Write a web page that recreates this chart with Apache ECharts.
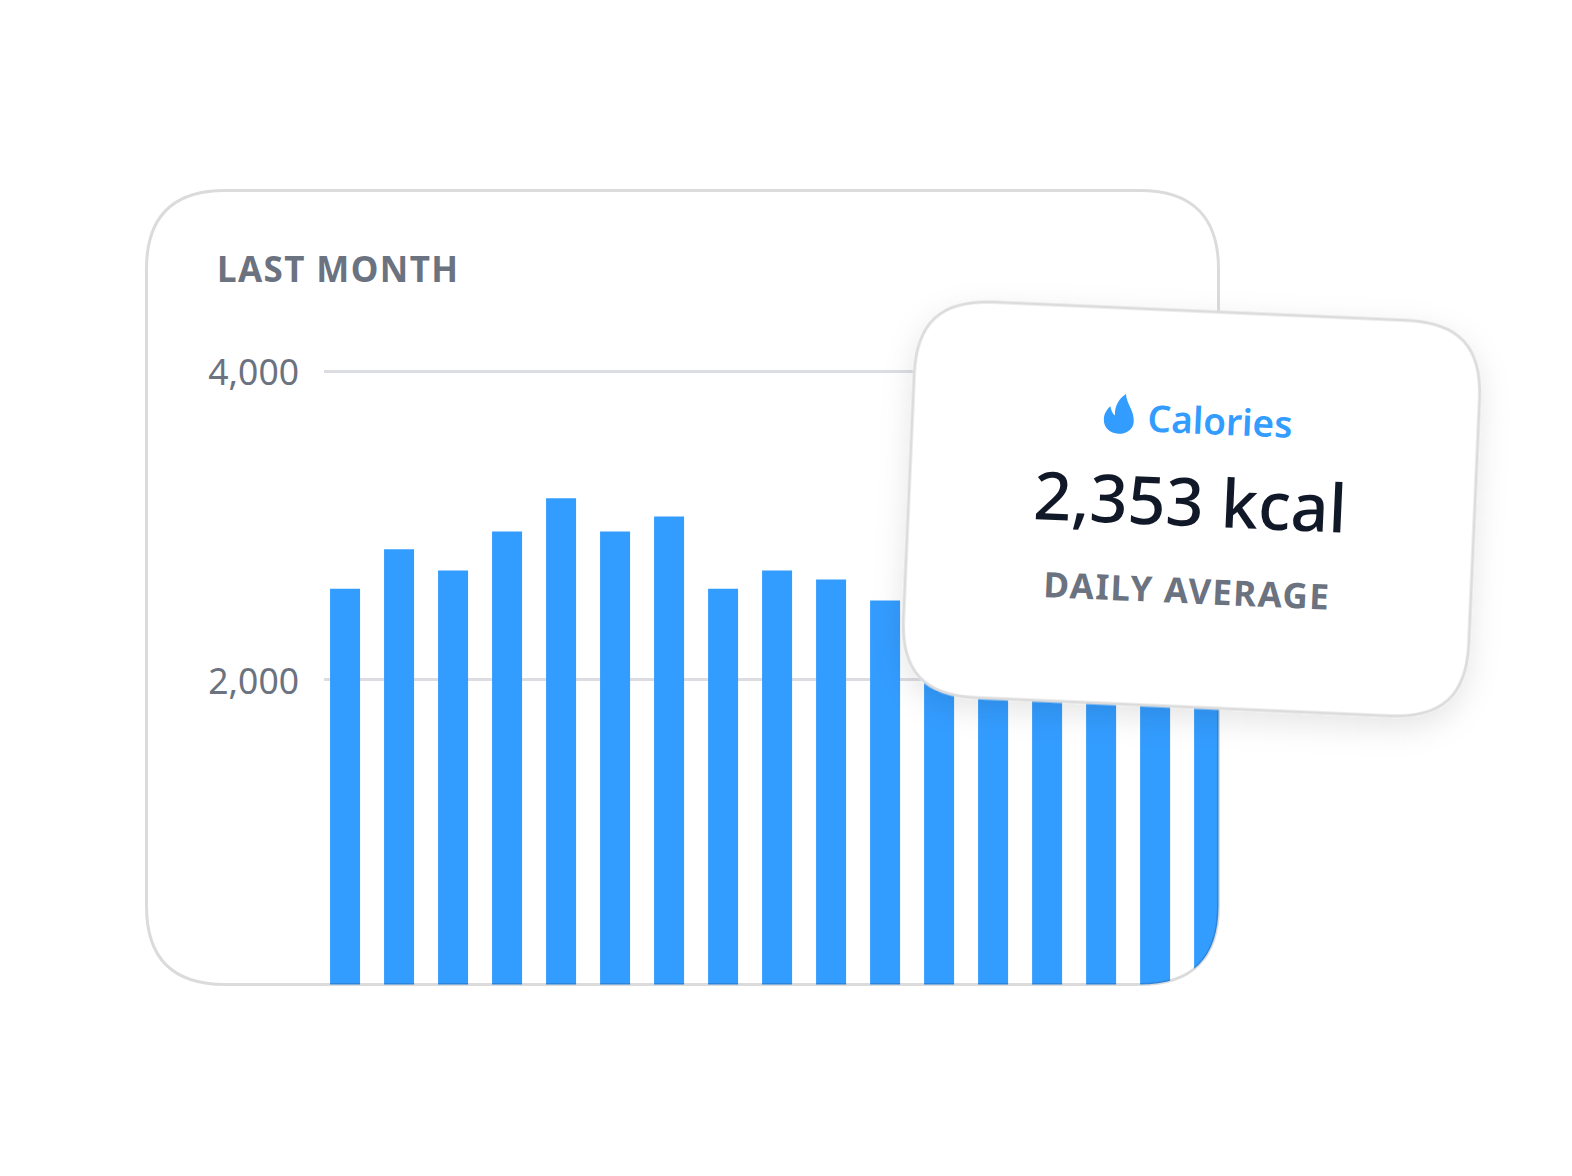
<!DOCTYPE html>
<html>
<head>
<meta charset="utf-8">
<style>
  html, body { margin: 0; padding: 0; background: #fff; }
  #chart { width: 1572px; height: 1176px; }
  /* bold captions are tracked out a little in the reference */
  #chart text[style*="bold"] { letter-spacing: 1.4px; }
</style>
<script src="https://cdn.jsdelivr.net/npm/echarts@6/dist/echarts.min.js"></script>
</head>
<body>
<div id="chart"></div>
<script>
var days = [0, 1, 2, 3, 4, 5, 6, 7, 8, 9, 10, 11, 12, 13, 14, 15, 16];
// last six tops sit behind the front card, those are estimates
var calories = [2590, 2845, 2708, 2960, 3175, 2960, 3058, 2590, 2708, 2649, 2513, 2400, 2330, 2260, 2300, 2220, 2150];
var yTicks = [2000, 4000];
var titleText = 'LAST MONTH';
var cardLabel = 'Calories';
var cardValue = '2,353 kcal';
var cardCaption = 'DAILY AVERAGE';

var blue = '#339cff';
var grey = '#6b7280';
var border = 'rgba(0,0,0,0.14)';

// graphic component has no plain path type, so register the card outlines as shapes
function addShape(name, d) {
  echarts.graphic.registerShape(name, echarts.graphic.extendPath(d));
}
addShape('backCard', 'M225 190.5 L1140 190.5 C1192 190.5 1218.5 217 1218.5 269 L1218.5 906 C1218.5 958 1192 984.5 1140 984.5 ' +
  'L225 984.5 C172 984.5 146.5 958 146.5 906 L146.5 269 C146.5 217 172 190.5 225 190.5 Z');
// hides whatever of the bars falls outside the back card: right edge, rounded corner, bottom
addShape('cornerMask', 'M1218.5 300 L1218.5 906 C1218.5 958 1192 984.5 1140 984.5 L320 984.5 L320 995 L1226 995 L1226 300 Z');
addShape('frontCard', 'M-206 -198 L206 -198 C260 -198 283 -174 283 -122 L283 122 C283 174 260 198 206 198 ' +
  'L-206 198 C-260 198 -283 174 -283 122 L-283 -122 C-283 -174 -260 -198 -206 -198 Z');
addShape('flame', 'M6 -20 C7 -10 15 -4 15 7 C15 15 8 20 0 20 C-8 20 -15 15 -15 6 C-15 0 -12 -4 -9 -7 ' +
  'C-8 -3 -7 0 -4 2 C-5 -7 -1 -15 6 -20 Z');

var option = {
  animation: false,
  backgroundColor: '#fff',
  grid: { left: 324, top: 371, width: 894.5, height: 617.4 },
  xAxis: { type: 'value', min: -0.39, max: 16.174, show: false },
  yAxis: {
    type: 'value',
    min: 0,
    max: 4000,
    axisLine: { show: false },
    axisTick: { show: false, customValues: yTicks },
    splitLine: { show: true, lineStyle: { color: '#dcdde3', width: 3 } },
    axisLabel: {
      customValues: yTicks,
      margin: 25,
      color: grey,
      fontFamily: 'Noto Sans',
      fontSize: 35.5,
      padding: [4, 0, 0, 0],
      formatter: function (v) { return v.toLocaleString('en-US'); }
    }
  },
  series: [{
    type: 'bar',
    barWidth: 30,
    itemStyle: { color: blue },
    data: days.map(function (d, i) { return [d, calories[i]]; })
  }],
  graphic: { elements: [
    { type: 'cornerMask', z: 20, silent: true, shape: {}, style: { fill: '#fff' } },
    { type: 'backCard', z: 21, silent: true, shape: {}, style: { fill: 'none', stroke: border, lineWidth: 3 } },
    { type: 'text', z: 22, x: 217, y: 268, silent: true, style: {
      text: titleText, fill: grey, font: 'bold 35px "Noto Sans"', textAlign: 'left', textVerticalAlign: 'middle' } },
    { type: 'group', x: 1191.5, y: 509, rotation: -2.5 * Math.PI / 180, z: 30, children: [
      { type: 'frontCard', z: 30, silent: true, shape: {}, style: {
        fill: '#fff', stroke: '#dcdcdc', lineWidth: 3,
        shadowBlur: 30, shadowColor: 'rgba(0,0,0,0.10)', shadowOffsetY: 10 } },
      { type: 'flame', z: 31, silent: true, x: -76.5, y: -92, shape: {}, style: { fill: blue } },
      { type: 'text', z: 31, x: 24.7, y: -90, silent: true, style: {
        text: cardLabel, fill: blue, font: '600 37px "Noto Sans"', textAlign: 'center', textVerticalAlign: 'middle' } },
      { type: 'text', z: 31, x: -1.5, y: -9, silent: true, style: {
        text: cardValue, fill: '#111827', font: '500 66.5px "Noto Sans"', textAlign: 'center', textVerticalAlign: 'middle' } },
      { type: 'text', z: 31, x: -1, y: 81, silent: true, style: {
        text: cardCaption, fill: grey, font: 'bold 35px "Noto Sans"', textAlign: 'center', textVerticalAlign: 'middle' } }
    ] }
  ] }
};

var myChart = echarts.init(document.getElementById('chart'), null, { renderer: 'svg' });
myChart.setOption(option);
</script>
</body>
</html>
